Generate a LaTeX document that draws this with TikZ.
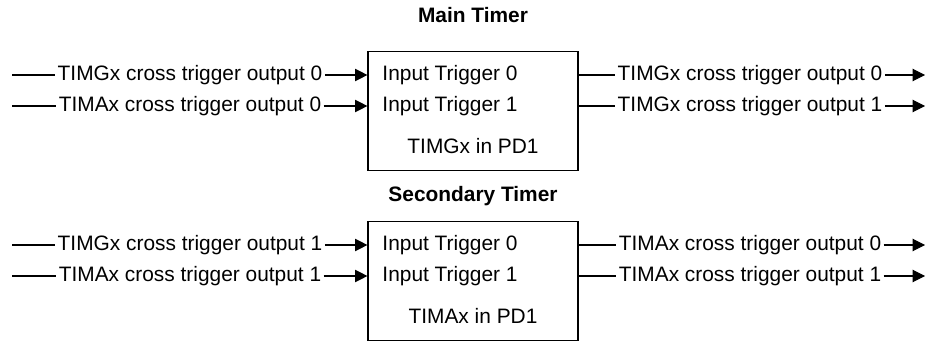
\documentclass[tikz,border=0pt]{standalone}
\usepackage{fontspec}
\setmainfont{Liberation Sans}
\usetikzlibrary{arrows.meta}

\begin{document}
\begin{tikzpicture}[x=0.017cm, y=-0.017cm,
        every node/.style={font=\fontsize{10.1}{12}\selectfont, inner sep=1pt},
        timerbox/.style={draw, line width=0.55pt, minimum width=3.57cm, minimum height=2.01cm},
        heading/.style={font=\fontsize{10.1}{12}\selectfont\bfseries},
        wire/.style={line width=0.5pt},
        >={Triangle[length=6pt, width=6pt]}]
        \useasboundingbox (0,0) rectangle (927,344);

        % main timer
        \node[heading] (gtitle) at (473,15) {Main Timer};
        \node[timerbox] (gbox) at (473,111) {};
        \node[anchor=west] (gtrig0) at (380,75) {Input Trigger 0};
        \node[anchor=west] (gtrig1) at (380,106) {Input Trigger 1};
        \node (gname) at (473,146) {TIMGx in PD1};

        \coordinate (gs0) at (12,75);
        \coordinate (gs1) at (12,106);
        \node (gin0) at (190,75) {TIMGx cross trigger output 0};
        \node (gin1) at (190,106) {TIMAx cross trigger output 0};
        \draw[wire] (gs0) -- (gin0); \draw[wire, ->] (gin0) -- (gbox.west |- gin0);
        \draw[wire] (gs1) -- (gin1); \draw[wire, ->] (gin1) -- (gbox.west |- gin1);

        \coordinate (ge0) at (925,75);
        \coordinate (ge1) at (925,106);
        \node (gout0) at (750,75) {TIMGx cross trigger output 0};
        \node (gout1) at (750,106) {TIMGx cross trigger output 1};
        \draw[wire] (gbox.east |- gout0) -- (gout0); \draw[wire, ->] (gout0) -- (ge0);
        \draw[wire] (gbox.east |- gout1) -- (gout1); \draw[wire, ->] (gout1) -- (ge1);

        % secondary timer
        \node[heading] (atitle) at (473,196) {Secondary Timer};
        \node[timerbox] (abox) at (473,281) {};
        \node[anchor=west] (atrig0) at (380,245) {Input Trigger 0};
        \node[anchor=west] (atrig1) at (380,276) {Input Trigger 1};
        \node (aname) at (473,316) {TIMAx in PD1};

        \coordinate (as0) at (12,245);
        \coordinate (as1) at (12,276);
        \node (ain0) at (190,245) {TIMGx cross trigger output 1};
        \node (ain1) at (190,276) {TIMAx cross trigger output 1};
        \draw[wire] (as0) -- (ain0); \draw[wire, ->] (ain0) -- (abox.west |- ain0);
        \draw[wire] (as1) -- (ain1); \draw[wire, ->] (ain1) -- (abox.west |- ain1);

        \coordinate (ae0) at (925,245);
        \coordinate (ae1) at (925,276);
        \node (aout0) at (750,245) {TIMAx cross trigger output 0};
        \node (aout1) at (750,276) {TIMAx cross trigger output 1};
        \draw[wire] (abox.east |- aout0) -- (aout0); \draw[wire, ->] (aout0) -- (ae0);
        \draw[wire] (abox.east |- aout1) -- (aout1); \draw[wire, ->] (aout1) -- (ae1);
\end{tikzpicture}
\end{document}
